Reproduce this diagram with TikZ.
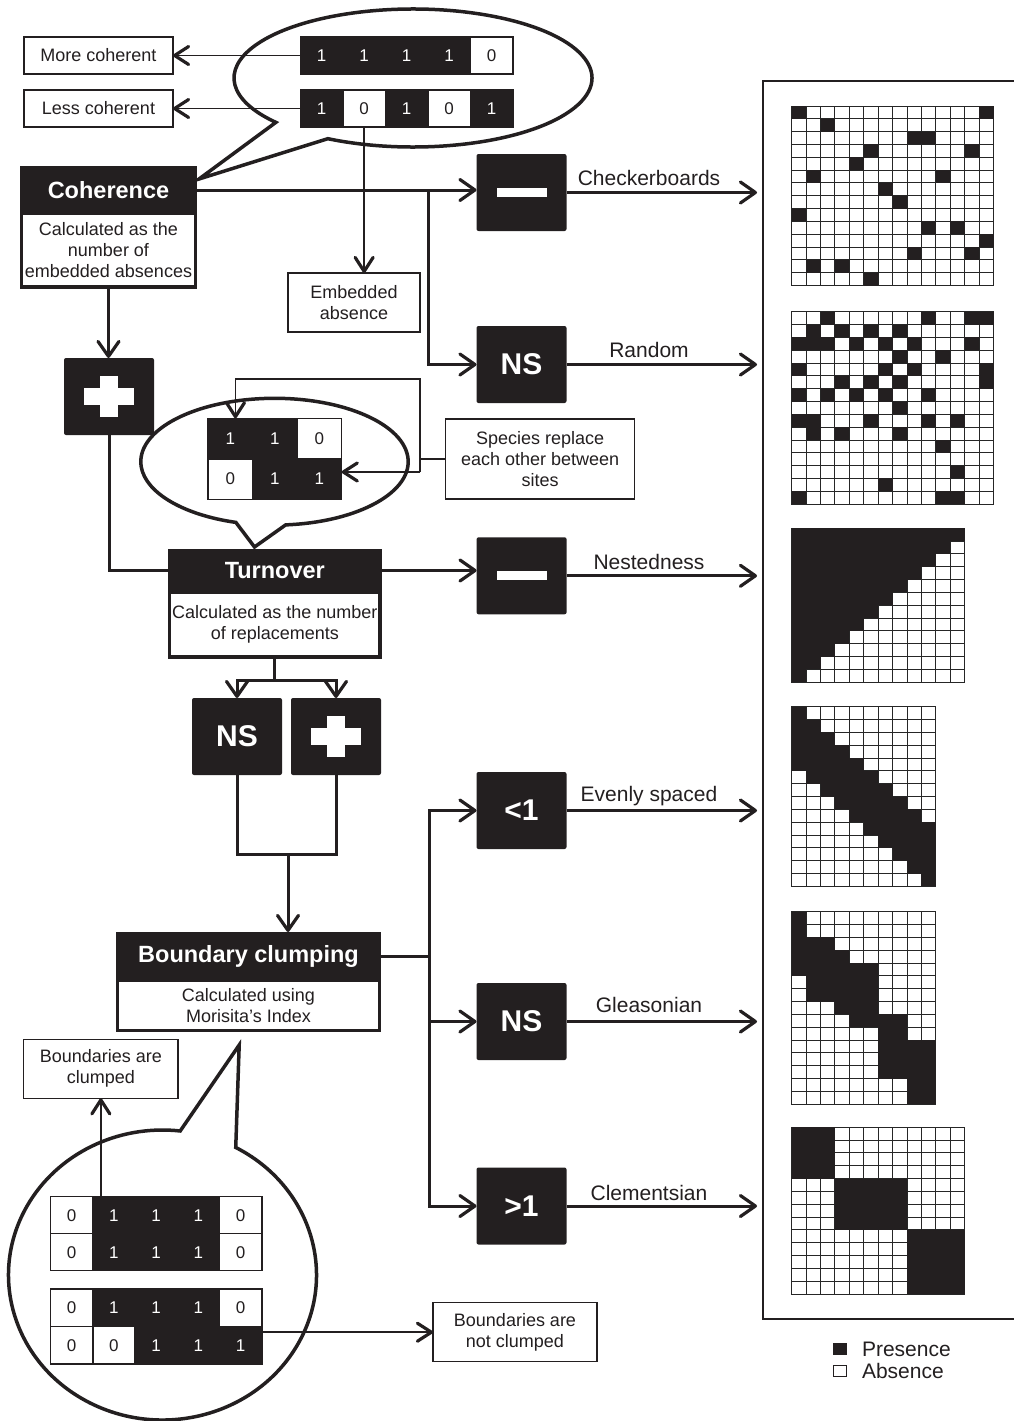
\documentclass[tikz,border=0pt]{standalone}
\usepackage{fontspec}
\setmainfont{Liberation Sans}
\usetikzlibrary{arrows.meta}
\definecolor{ink}{HTML}{231F20}
\colorlet{cf1}{ink}\colorlet{cf0}{white}
\colorlet{ct1}{white}\colorlet{ct0}{ink}
\newcommand\mgw{14.42}
\newcommand\mgh{12.83}
\newcommand\blk[3]{\fill[ink] (#2*\mgw,#1*\mgh) rectangle ({(#3+1)*\mgw},{(#1+1)*\mgh});}
\newcommand\matbg[2]{%
  \fill[white] (0,0) rectangle (#1*\mgw,#2*\mgh);
  \foreach \i in {0,...,#1} {\draw[gridln] (\i*\mgw,0) -- (\i*\mgw,#2*\mgh);}
  \foreach \j in {0,...,#2} {\draw[gridln] (0,\j*\mgh) -- (#1*\mgw,\j*\mgh);}}
\newcommand\minussign[1]{\fill[white] ([xshift=-25pt,yshift=-4.5pt]#1.center) rectangle ([xshift=25pt,yshift=4.5pt]#1.center);}
\newcommand\plussign[1]{\fill[white] ([xshift=-25pt,yshift=-8.5pt]#1.center) rectangle ([xshift=25pt,yshift=8.5pt]#1.center);
  \fill[white] ([xshift=-8.8pt,yshift=-20.3pt]#1.center) rectangle ([xshift=8.8pt,yshift=20.3pt]#1.center);}
\tikzset{
  every node/.style={inner sep=0pt, outer sep=0pt},
  txt/.style={font={\fontsize{18}{21}\selectfont}, align=center, text=ink},
  lbl/.style={font={\fontsize{21}{24}\selectfont}, anchor=base, text=ink},
  tbox/.style={draw=ink, line width=1.5pt, fill=white, txt},
  body/.style={draw=ink, line width=3.5pt, fill=white, txt},
  hdr/.style={fill=ink, text=white, font={\fontsize{23.5}{26}\selectfont\bfseries}},
  bbox/.style={fill=ink, rounded corners=2pt, minimum width=90pt, minimum height=77pt, text=white, font={\fontsize{30}{32}\selectfont\bfseries}},
  cellb/.style={draw=ink, line width=1.5pt, font={\fontsize{17}{17}\selectfont}},
  bub/.style={draw=ink, fill=white, line width=3.5pt},
  gridln/.style={draw=black!85, line width=1pt, line cap=rect},
  thk/.style={draw=ink, line width=3pt},
  thkarr/.style={thk, -{Straight Barb[length=15pt, width=21pt, line width=3.2pt, round]}},
  thn/.style={draw=ink, line width=1.5pt},
  thnarr/.style={thn, -{Straight Barb[length=14pt, width=18pt, line width=3.2pt, round]}},
}
\begin{document}
\begin{tikzpicture}[x=1pt,y=-1pt]
\useasboundingbox (0,0) rectangle (1013,1421);
% ---------- speech bubbles ----------
\draw[bub] (413,78) ++(118.4:179 and 69) arc[start angle=118.4, end angle=-220, x radius=179, y radius=69] -- (199,179) -- cycle;
\draw[bub] (274.5,461.7) ++(85.2:133.7 and 63.4) arc[start angle=85.2, end angle=-253.2, x radius=133.7, y radius=63.4] -- (254.5,547) -- cycle;
\draw[bub] (162.5,1275) ++(-61.6:154 and 145) arc[start angle=-61.6, end angle=276.6, x radius=154, y radius=145] -- (239.2,1045) -- cycle;
% ---------- frame on the right ----------
\draw[ink, line width=1.5pt] (763,81) rectangle (1030,1319);
% ---------- top-left: coherence example ----------
\node[tbox, minimum width=149pt, minimum height=37pt] (moreC) at (98.5,55.5) {More coherent};
\node[tbox, minimum width=149pt, minimum height=37pt] (lessC) at (98.5,108.5) {Less coherent};
\foreach \v [count=\i from 0] in {1,1,1,1,0}
  \node[cellb, fill=cf\v, text=ct\v, minimum width=42.5pt, minimum height=37pt] (sa\i) at (321.65+42.5*\i,55.5) {\v};
\foreach \v [count=\i from 0] in {1,0,1,0,1}
  \node[cellb, fill=cf\v, text=ct\v, minimum width=42.5pt, minimum height=37pt] (sb\i) at (321.65+42.5*\i,108.5) {\v};
\draw[thnarr] (sa0.west) -- (moreC.east);
\draw[thnarr] (sb0.west) -- (lessC.east);
\node[tbox, minimum width=132pt, minimum height=59pt] (emb) at (354,302.5) {Embedded\\absence};
\draw[thnarr] (sb1.south) -- (sb1.south |- emb.north);
% ---------- Coherence ----------
\node[body, minimum width=174pt, minimum height=74pt] (cohB) at (108.5,250) {Calculated as the\\number of\\embedded absences};
\node[hdr, minimum width=177pt, minimum height=48pt] (cohH) at (108.5,190) {Coherence};
\node[bbox] (m1) at (521.5,192.5) {};
\minussign{m1}
\node[bbox] (ns1) at (521.5,364.5) {NS};
\coordinate (br1) at (428,190);
\draw[thkarr] (cohH.east) -- (cohH.east -| m1.west);
\draw[thkarr] (br1) |- (ns1.west);
\node[bbox] (p1) at (109,396.5) {};
\plussign{p1}
\draw[thkarr] (cohB.south) -- (cohB.south |- p1.north);
% ---------- Turnover ----------
\node[body, minimum width=210.6pt, minimum height=64.5pt] (turnB) at (274.8,624.5) {Calculated as the number\\of replacements};
\node[hdr, minimum width=213.6pt, minimum height=43pt] (turnH) at (274.8,570.5) {Turnover};
\draw[thk] (p1.south) |- (turnH.west);
\node[bbox] (m2) at (521.6,575.8) {};
\minussign{m2}
\draw[thkarr] (turnH.east) -- (turnH.east -| m2.west);
\foreach \v [count=\i from 0] in {1,1,0}
  \node[cellb, fill=cf\v, text=ct\v, minimum width=44.5pt, minimum height=40.5pt] (ta\i) at (230.45+44.5*\i,438.55) {\v};
\foreach \v [count=\i from 0] in {0,1,1}
  \node[cellb, fill=cf\v, text=ct\v, minimum width=44.5pt, minimum height=40.5pt] (tb\i) at (230.45+44.5*\i,479.05) {\v};
\node[tbox, minimum width=189pt, minimum height=80pt] (spec) at (540.2,459) {Species replace\\each other between\\sites};
\coordinate (fbT) at (420,379);
\coordinate (fbB) at (420,472);
\draw[thn] (spec.west) -- (spec.west -| fbT);
\draw[thnarr] (fbB) -- (fbT) -| ([xshift=5pt]ta0.north);
\draw[thnarr] (fbB) -- (fbB -| tb2.east);
% ---------- NS / + after turnover ----------
\node[bbox] (ns2) at (237,736.5) {NS};
\node[bbox] (p2) at (336,736.5) {};
\plussign{p2}
\coordinate (sp1) at (274.8,680);
\draw[thk] (turnB.south) -- (sp1);
\draw[thkarr] (sp1) -| (ns2.north);
\draw[thkarr] (sp1) -| (p2.north);
% ---------- Boundary clumping ----------
\node[body, minimum width=262pt, minimum height=50pt] (bndB) at (248.5,1005.5) {Calculated using\\Morisita’s Index};
\node[hdr, minimum width=265pt, minimum height=48pt] (bndH) at (248.5,956) {Boundary clumping};
\coordinate (jn1) at (288,854);
\draw[thk] (ns2.south) |- (jn1);
\draw[thk] (p2.south) |- (jn1);
\draw[thkarr] (jn1) -- (jn1 |- bndH.north);
\node[bbox] (lt1) at (521.5,810.5) {<1};
\node[bbox] (ns3) at (521.5,1021.5) {NS};
\node[bbox] (gt1) at (521.5,1206) {>1};
\coordinate (br2) at (429,956);
\draw[thk] (bndH.east) -- (br2);
\draw[thkarr] (br2) |- (lt1.west);
\draw[thkarr] (br2) |- (ns3.west);
\draw[thkarr] (br2) |- (gt1.west);
% ---------- outputs to the right ----------
\coordinate (fx) at (757,0);
\foreach \n in {m1,ns1,m2,lt1,ns3,gt1}
  \draw[thkarr] (\n.east) -- (\n.east -| fx);
\node[lbl] (lchk) at (649,185.5) {Checkerboards};
\node[lbl] (lran) at (649,357.5) {Random};
\node[lbl] (lnes) at (649,569.5) {Nestedness};
\node[lbl] (leve) at (649,801) {Evenly spaced};
\node[lbl] (lgle) at (649,1012.5) {Gleasonian};
\node[lbl] (lcle) at (649,1200.5) {Clementsian};
% ---------- bottom-left bubble ----------
\node[tbox, minimum width=154.3pt, minimum height=59pt] (bc) at (100.85,1068.8) {Boundaries are\\clumped};
\node[tbox, minimum width=164pt, minimum height=59pt] (bnc) at (515,1332.2) {Boundaries are\\not clumped};
\foreach \v [count=\i from 0] in {0,1,1,1,0}
  \node[cellb, fill=cf\v, text=ct\v, minimum width=42.24pt, minimum height=37pt] (ma\i) at (71.72+42.24*\i,1215.2) {\v};
\foreach \v [count=\i from 0] in {0,1,1,1,0}
  \node[cellb, fill=cf\v, text=ct\v, minimum width=42.24pt, minimum height=37pt] (mb\i) at (71.72+42.24*\i,1252.2) {\v};
\foreach \v [count=\i from 0] in {0,1,1,1,0}
  \node[cellb, fill=cf\v, text=ct\v, minimum width=42.24pt, minimum height=37.5pt] (mc\i) at (71.72+42.24*\i,1307.75) {\v};
\foreach \v [count=\i from 0] in {0,0,1,1,1}
  \node[cellb, fill=cf\v, text=ct\v, minimum width=42.24pt, minimum height=37.5pt] (md\i) at (71.72+42.24*\i,1345.25) {\v};
\draw[thnarr] (bc.south |- ma0.north) -- (bc.south);
\draw[thnarr] (md4.east |- bnc.west) -- (bnc.west);
% ---------- matrices ----------
\begin{scope}[shift={(791.7,106)}]
\matbg{14}{14}
\foreach \r/\a/\b in {0/0/0,0/13/13,1/2/2,2/8/9,3/5/5,3/12/12,4/4/4,5/1/1,5/10/10,6/6/6,7/7/7,8/0/0,9/9/9,9/11/11,10/13/13,11/8/8,11/12/12,12/1/1,12/3/3,13/5/5}
  {\blk{\r}{\a}{\b}}
\end{scope}
\begin{scope}[shift={(791.7,311.7)}]
\matbg{14}{15}
\foreach \r/\a/\b in {0/2/2,0/9/9,0/12/13,1/1/1,1/3/3,1/5/5,1/7/7,2/0/2,2/4/4,2/6/6,2/8/8,2/12/12,3/7/7,3/10/10,4/0/0,4/6/6,4/8/8,4/13/13,5/3/3,5/5/5,5/7/7,5/13/13,6/0/0,6/2/2,6/4/4,6/6/6,6/9/9,7/7/7,8/0/1,8/5/5,8/9/9,8/11/11,9/1/1,9/3/3,9/7/7,10/10/10,12/11/11,13/6/6,14/0/0,14/10/11}
  {\blk{\r}{\a}{\b}}
\end{scope}
\begin{scope}[shift={(791.7,528.3)}]
\matbg{12}{12}
\foreach \r in {0,...,11} {\pgfmathtruncatemacro\mce{11-\r}\blk{\r}{0}{\mce}}
\end{scope}
\begin{scope}[shift={(791.7,706.7)}]
\matbg{10}{14}
\foreach \r in {0,...,13} {\pgfmathtruncatemacro\mca{max(0,\r-4)}\pgfmathtruncatemacro\mcb{min(9,\r)}\blk{\r}{\mca}{\mcb}}
\end{scope}
\begin{scope}[shift={(791.7,911.7)}]
\matbg{10}{15}
\foreach \r/\a/\b in {0/0/0,1/0/0,2/0/2,3/0/3,4/0/5,5/1/5,6/1/5,7/3/5,8/4/7,9/6/7,10/6/9,11/6/9,12/6/9,13/8/9,14/8/9}
  {\blk{\r}{\a}{\b}}
\end{scope}
\begin{scope}[shift={(791.7,1127.3)}]
\matbg{12}{13}
\foreach \r/\a/\b in {0/0/2,1/0/2,2/0/2,3/0/2,4/3/7,5/3/7,6/3/7,7/3/7,8/8/11,9/8/11,10/8/11,11/8/11,12/8/11}
  {\blk{\r}{\a}{\b}}
\end{scope}
% ---------- legend ----------
\node[fill=ink, minimum width=14pt, minimum height=12pt] (lp) at (840,1349) {};
\node[draw=ink, line width=1pt, fill=white, minimum width=13pt, minimum height=11pt] (la) at (840,1371) {};
\node[lbl, anchor=west] (lpt) at (862,1349) {Presence};
\node[lbl, anchor=west] (lat) at (862,1371) {Absence};
\end{tikzpicture}
\end{document}
